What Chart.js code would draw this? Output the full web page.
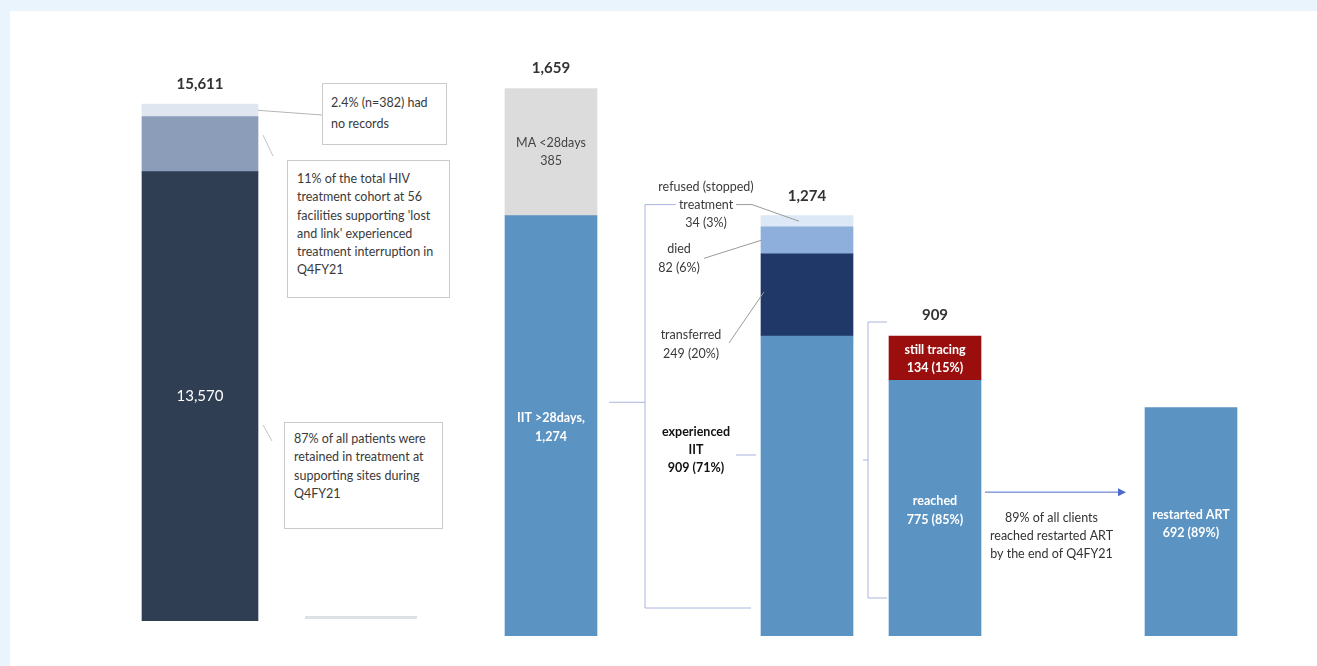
<!DOCTYPE html>
<html>
<head>
<meta charset="utf-8">
<title>Lost and link cascade, Q4FY21</title>
<script src="https://cdn.jsdelivr.net/npm/chart.js@4.4.0/dist/chart.umd.min.js"></script>
<style>
  body { margin: 0; background: #eaf4fd; font-family: Lato, 'Open Sans', sans-serif; }
  #stage { position: relative; width: 1317px; height: 666px; overflow: hidden; }
  #panel { position: absolute; left: 10px; top: 11px; right: 0; bottom: 0; background: #fff; }
  #stage canvas { position: absolute; left: 0; top: 0; }
  .note {
    position: absolute; box-sizing: border-box; background: #fff;
    border: 1px solid #cacaca; color: #3a3a3a; font-size: 12.5px; line-height: 18.3px;
  }
  #legendStub { position: absolute; left: 305px; top: 616px; width: 112px; height: 3px; background: #dde0e5; }
</style>
</head>
<body>
<div id="stage">
  <div id="panel"></div>
  <canvas id="cohortChart" width="1317" height="666"></canvas>
  <canvas id="cascadeChart" width="1317" height="666"></canvas>
  <div class="note" id="noteNoRecords" style="left:322px;top:83px;width:125px;height:62px;padding:9px 8px;line-height:20.5px;"></div>
  <div class="note" id="noteInterrupted" style="left:287px;top:160px;width:163px;height:138px;padding:9px 9px;"></div>
  <div class="note" id="noteRetained" style="left:284px;top:422px;width:159px;height:107px;padding:7px 9px;"></div>
  <div id="legendStub"></div>
</div>
<script>
// Treatment cohort at the 56 supporting facilities
const cohortLabels = ['HIV treatment cohort'];
const retained = [13570];
const interrupted = [1659];
const noRecords = [382];

// Follow-up of clients who missed appointments
const stageLabels = ['Missed appointments', '', 'IIT outcomes', 'Tracing', '', 'Restarted'];
const iitOver28 = [1274, null, null, null, null, null];
const maUnder28 = [385, null, null, null, null, null];
const experiencedIit = [null, null, 909, null, null, null];
const transferred = [null, null, 249, null, null, null];
const died = [null, null, 82, null, null, null];
const refused = [null, null, 34, null, null, null];
const reached = [null, null, null, 775, null, null];
const stillTracing = [null, null, null, 134, null, null];
const restartedArt = [null, null, null, null, null, 692];

const BLUE = '#5b93c2';
const fmt = (n) => n.toLocaleString('en-US');
const pct = (a, b) => Math.round((a / b) * 100) + '%';
const FONT = 'Lato, "Open Sans", sans-serif';

const cohortTotal = retained[0] + interrupted[0] + noRecords[0];

document.getElementById('noteNoRecords').innerHTML =
  `${((noRecords[0] / cohortTotal) * 100).toFixed(1)}% (n=${noRecords[0]}) had<br>no records`;
document.getElementById('noteInterrupted').innerHTML =
  `${pct(interrupted[0], cohortTotal)} of the total HIV<br>treatment cohort at 56<br>facilities supporting 'lost<br>and link' experienced<br>treatment interruption in<br>Q4FY21`;
document.getElementById('noteRetained').innerHTML =
  `${pct(retained[0], cohortTotal)} of all patients were<br>retained in treatment at<br>supporting sites during<br>Q4FY21`;

// bar segment geometry from the chart's own elements
function seg(chart, ds, i) {
  const el = chart.getDatasetMeta(ds).data[i];
  const top = Math.min(el.y, el.base);
  const bottom = Math.max(el.y, el.base);
  return { x: el.x, top, bottom, mid: (top + bottom) / 2, left: el.x - el.width / 2, right: el.x + el.width / 2 };
}

function lines(ctx, textLines, x, yCenter, gap) {
  const start = yCenter - ((textLines.length - 1) * gap) / 2;
  textLines.forEach((t, k) => ctx.fillText(t, x, start + k * gap));
}

function line(ctx, pts, color) {
  ctx.beginPath();
  ctx.moveTo(pts[0][0], pts[0][1]);
  for (let k = 1; k < pts.length; k++) ctx.lineTo(pts[k][0], pts[k][1]);
  ctx.strokeStyle = color;
  ctx.lineWidth = 1;
  ctx.stroke();
}

const cohortLabelsPlugin = {
  id: 'cohortLabels',
  afterDatasetsDraw(chart) {
    const ctx = chart.ctx;
    const low = seg(chart, 0, 0);
    const midSeg = seg(chart, 1, 0);
    const top = seg(chart, 2, 0);
    ctx.save();
    ctx.textAlign = 'center';
    ctx.textBaseline = 'middle';
    ctx.font = `bold 15px ${FONT}`;
    ctx.fillStyle = '#333';
    ctx.fillText(fmt(cohortTotal), top.x, top.top - 20);
    ctx.font = `15px ${FONT}`;
    ctx.fillStyle = '#fff';
    ctx.fillText(fmt(retained[0]), low.x, low.mid);
    // callout strokes towards the notes
    line(ctx, [[top.right, top.mid], [322, 115]], '#b5b5b5');
    line(ctx, [[top.right + 5, midSeg.mid - 9], [top.right + 15, midSeg.mid + 12]], '#c4c4c4');
    line(ctx, [[low.right + 5, 425], [low.right + 14, 441]], '#c4c4c4');
    ctx.restore();
  }
};

new Chart(document.getElementById('cohortChart'), {
  type: 'bar',
  data: {
    labels: cohortLabels,
    datasets: [
      { label: 'Retained', data: retained, backgroundColor: '#2f3e53' },
      { label: 'Treatment interruption', data: interrupted, backgroundColor: '#8b9db8' },
      { label: 'No records', data: noRecords, backgroundColor: '#dfe6ef' }
    ]
  },
  options: {
    responsive: false,
    animation: false,
    layout: { padding: { left: 100, right: 1017, top: 58, bottom: 45 } },
    datasets: { bar: { barThickness: 116 } },
    plugins: { legend: { display: false }, tooltip: { enabled: false } },
    scales: {
      x: { display: false, stacked: true },
      y: { display: false, stacked: true, min: 0, max: 17000 }
    }
  },
  plugins: [cohortLabelsPlugin]
});

const cascadeLabelsPlugin = {
  id: 'cascadeLabels',
  afterDatasetsDraw(chart) {
    const ctx = chart.ctx;
    const iit = seg(chart, 0, 0);
    const ma = seg(chart, 1, 0);
    const exp = seg(chart, 2, 2);
    const trf = seg(chart, 3, 2);
    const die = seg(chart, 4, 2);
    const ref = seg(chart, 5, 2);
    const rch = seg(chart, 6, 3);
    const trc = seg(chart, 7, 3);
    const art = seg(chart, 8, 5);
    const iitTotal = experiencedIit[2] + transferred[2] + died[2] + refused[2];
    const traced = reached[3] + stillTracing[3];
    const bracket = '#aab5dd';

    ctx.save();
    ctx.textAlign = 'center';
    ctx.textBaseline = 'middle';

    // totals above the stacks
    ctx.font = `bold 15px ${FONT}`;
    ctx.fillStyle = '#333';
    ctx.fillText(fmt(iitOver28[0] + maUnder28[0]), ma.x, ma.top - 20);
    ctx.fillText(fmt(iitTotal), ref.x, ref.top - 19);
    ctx.fillText(fmt(traced), trc.x, trc.top - 21);

    // labels inside the bars
    ctx.font = `12.5px ${FONT}`;
    ctx.fillStyle = '#444';
    lines(ctx, ['MA <28days', fmt(maUnder28[0])], ma.x, ma.mid, 18);
    ctx.font = `bold 12.5px ${FONT}`;
    ctx.fillStyle = '#fff';
    lines(ctx, ['IIT >28days,', fmt(iitOver28[0])], iit.x, iit.mid + 2, 19);
    lines(ctx, ['still tracing', `${stillTracing[3]} (${pct(stillTracing[3], traced)})`], trc.x, trc.mid + 1, 18);
    lines(ctx, ['reached', `${reached[3]} (${pct(reached[3], traced)})`], rch.x, rch.mid + 2, 19);
    lines(ctx, ['restarted ART', `${restartedArt[5]} (${pct(restartedArt[5], reached[3])})`], art.x, art.mid + 2, 18);

    // outcome callouts left of the IIT bar
    ctx.font = `12.5px ${FONT}`;
    ctx.fillStyle = '#3a3a3a';
    const refX = ref.left - 55;
    const refY = ref.top - 11;
    lines(ctx, ['refused (stopped)', 'treatment', `${refused[2]} (${pct(refused[2], iitTotal)})`], refX, refY, 18);
    const tw = ctx.measureText('treatment').width;
    lines(ctx, ['died', `${died[2]} (${pct(died[2], iitTotal)})`], die.left - 82, die.mid + 18, 19);
    lines(ctx, ['transferred', `${transferred[2]} (${pct(transferred[2], iitTotal)})`], trf.left - 70, trf.mid + 50, 19);
    ctx.font = `bold 12.5px ${FONT}`;
    ctx.fillStyle = '#111';
    lines(ctx, ['experienced', 'IIT', `${experiencedIit[2]} (${pct(experiencedIit[2], iitTotal)})`], exp.left - 65, exp.mid - 36, 18);

    line(ctx, [[refX + tw / 2 + 3, refY], [ref.left - 9, refY], [ref.x - 8, ref.mid]], '#9a9a9a');
    line(ctx, [[die.left - 57, die.mid + 18], [die.left, die.mid]], '#9a9a9a');
    line(ctx, [[trf.left - 32, trf.mid + 48], [trf.left + 3, trf.mid - 3]], '#9a9a9a');
    line(ctx, [[exp.left - 25, exp.mid - 31], [exp.left - 5, exp.mid - 31]], bracket);

    // bracket from the IIT >28 days bar to the outcome bar
    const bx = iit.right + 48;
    const bBottom = exp.bottom - 28;
    line(ctx, [[refX - tw / 2 - 3, refY], [bx, refY], [bx, bBottom], [exp.left - 10, bBottom]], bracket);
    line(ctx, [[iit.right + 12, (refY + bBottom) / 2 - 4], [bx, (refY + bBottom) / 2 - 4]], bracket);

    // bracket from experienced IIT to the tracing bar
    const cx = trc.left - 21;
    const cTop = trc.top - 14;
    const cBottom = rch.bottom - 38;
    line(ctx, [[trc.left - 2, cTop], [cx, cTop], [cx, cBottom], [trc.left - 2, cBottom]], bracket);
    line(ctx, [[exp.right + 10, (cTop + cBottom) / 2], [cx, (cTop + cBottom) / 2]], bracket);

    // arrow from reached to restarted ART
    const ay = rch.mid - 16;
    const ax0 = rch.right + 4;
    const ax1 = art.left - 19;
    line(ctx, [[ax0, ay], [ax1 - 6, ay]], '#4a6bc9');
    ctx.beginPath();
    ctx.moveTo(ax1, ay);
    ctx.lineTo(ax1 - 8, ay - 4);
    ctx.lineTo(ax1 - 8, ay + 4);
    ctx.closePath();
    ctx.fillStyle = '#4a6bc9';
    ctx.fill();

    ctx.font = `12.5px ${FONT}`;
    ctx.fillStyle = '#333';
    lines(ctx, [`${pct(restartedArt[5], reached[3])} of all clients`, 'reached restarted ART', 'by the end of Q4FY21'],
      (ax0 + ax1) / 2 - 4, ay + 44, 18);
    ctx.restore();
  }
};

new Chart(document.getElementById('cascadeChart'), {
  type: 'bar',
  data: {
    labels: stageLabels,
    datasets: [
      { label: 'IIT >28days', data: iitOver28, backgroundColor: BLUE },
      { label: 'MA <28days', data: maUnder28, backgroundColor: '#dcdcdc' },
      { label: 'experienced IIT', data: experiencedIit, backgroundColor: BLUE },
      { label: 'transferred', data: transferred, backgroundColor: '#1f3868' },
      { label: 'died', data: died, backgroundColor: '#8eaedc' },
      { label: 'refused (stopped) treatment', data: refused, backgroundColor: '#dce8f5' },
      { label: 'reached', data: reached, backgroundColor: BLUE },
      { label: 'still tracing', data: stillTracing, backgroundColor: '#9a0f0d' },
      { label: 'restarted ART', data: restartedArt, backgroundColor: BLUE }
    ]
  },
  options: {
    responsive: false,
    animation: false,
    layout: { padding: { left: 487, right: 62, top: 42, bottom: 30 } },
    datasets: { bar: { barThickness: 92 } },
    plugins: { legend: { display: false }, tooltip: { enabled: false } },
    scales: {
      x: { display: false, stacked: true },
      y: { display: false, stacked: true, min: 0, max: 1800 }
    }
  },
  plugins: [cascadeLabelsPlugin]
});
</script>
</body>
</html>
